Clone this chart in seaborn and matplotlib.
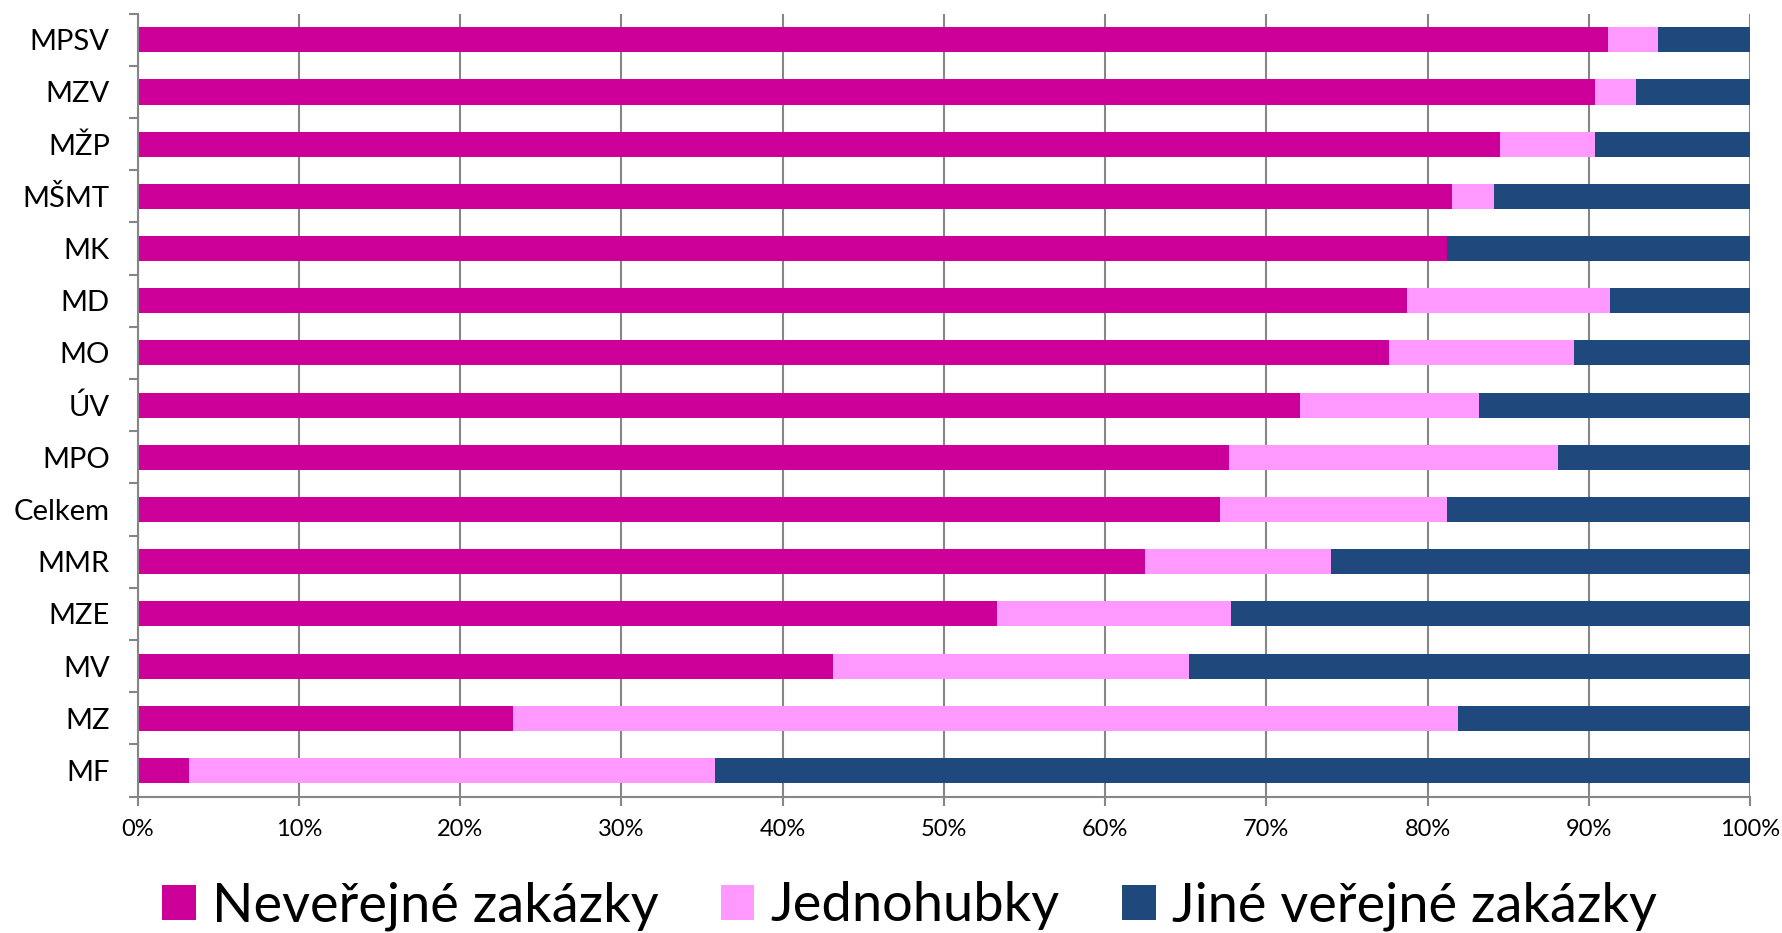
import matplotlib
matplotlib.use('Agg')
import matplotlib.pyplot as plt
import matplotlib.ticker as mticker
from matplotlib.patches import Patch
import seaborn as sns
import pandas as pd
import numpy as np

# podíly zakázek podle resortů (v %)
resorty = ['MPSV', 'MZV', 'MŽP', 'MŠMT', 'MK', 'MD', 'MO', 'ÚV', 'MPO',
           'Celkem', 'MMR', 'MZE', 'MV', 'MZ', 'MF']
neverejne = [91.2, 90.4, 84.5, 81.5, 81.2, 78.7, 77.6, 72.1, 67.7,
             67.1, 62.5, 53.3, 43.1, 23.3, 3.2]
jednohubky = [3.1, 2.5, 5.9, 2.6, 0.0, 12.6, 11.5, 11.1, 20.4,
              14.1, 11.5, 14.5, 22.1, 58.6, 32.6]
jine = [5.7, 7.1, 9.6, 15.9, 18.8, 8.7, 10.9, 16.8, 11.9,
        18.8, 26.0, 32.2, 34.8, 18.1, 64.2]

serie = ['Neveřejné zakázky', 'Jednohubky', 'Jiné veřejné zakázky']
barvy = ['#CC0099', '#FF99FF', '#1F497D']

df = pd.DataFrame({'Resort': resorty,
                   serie[0]: neverejne,
                   serie[1]: jednohubky,
                   serie[2]: jine})
# kumulativni soucty pro skladane pruhy
df['k1'] = df[serie[0]]
df['k2'] = df['k1'] + df[serie[1]]
df['k3'] = df['k2'] + df[serie[2]]

sns.set_style('white')
plt.rcParams['font.family'] = ['Lato', 'DejaVu Sans']
plt.rcParams['text.color'] = 'black'

fig, ax = plt.subplots(figsize=(17.83, 9.33), dpi=100)
fig.subplots_adjust(left=0.0772, right=0.9815, bottom=0.1463, top=0.9853)

# nejdriv cely pruh, pak prekryt kratsimi
for sloupec, barva in [('k3', barvy[2]), ('k2', barvy[1]), ('k1', barvy[0])]:
    sns.barplot(data=df, x=sloupec, y='Resort', color=barva, width=0.48,
                orient='h', saturation=1, edgecolor='none', ax=ax)

seda = '#868686'
ax.set_xlim(0, 100)
ax.set_ylim(len(resorty) - 0.5, -0.5)
ax.set_xticks(range(0, 101, 10))
ax.xaxis.set_major_formatter(mticker.FuncFormatter(lambda v, p: f'{v:.0f}%'))
ax.xaxis.grid(True, color=seda, linewidth=1.5)
ax.yaxis.grid(False)
ax.set_axisbelow(True)

ax.set_yticks(np.arange(len(resorty)))
ax.set_yticks(np.arange(-0.5, len(resorty), 1), minor=True)
ax.tick_params(axis='y', which='major', length=0, labelsize=21, pad=20,
               labelcolor='black')
ax.tick_params(axis='y', which='minor', left=True, length=6.5, width=1.5, color=seda)
ax.tick_params(axis='x', bottom=True, length=6.5, width=1.5, color=seda,
               labelsize=17, pad=10, labelcolor='black')
ax.set_xlabel('')
ax.set_ylabel('')

for s in ['top', 'right']:
    ax.spines[s].set_visible(False)
for s in ['left', 'bottom']:
    ax.spines[s].set_color(seda)
    ax.spines[s].set_linewidth(1.5)

handles = [Patch(facecolor=b, edgecolor='none') for b in barvy]
fig.legend(handles, serie, loc='center', bbox_to_anchor=(0.51, 0.029), ncol=3,
           frameon=False, fontsize=39, handlelength=0.62, handleheight=0.62,
           handletextpad=0.3, columnspacing=1.15, labelcolor='black')

fig.savefig('out.png', dpi=100)
